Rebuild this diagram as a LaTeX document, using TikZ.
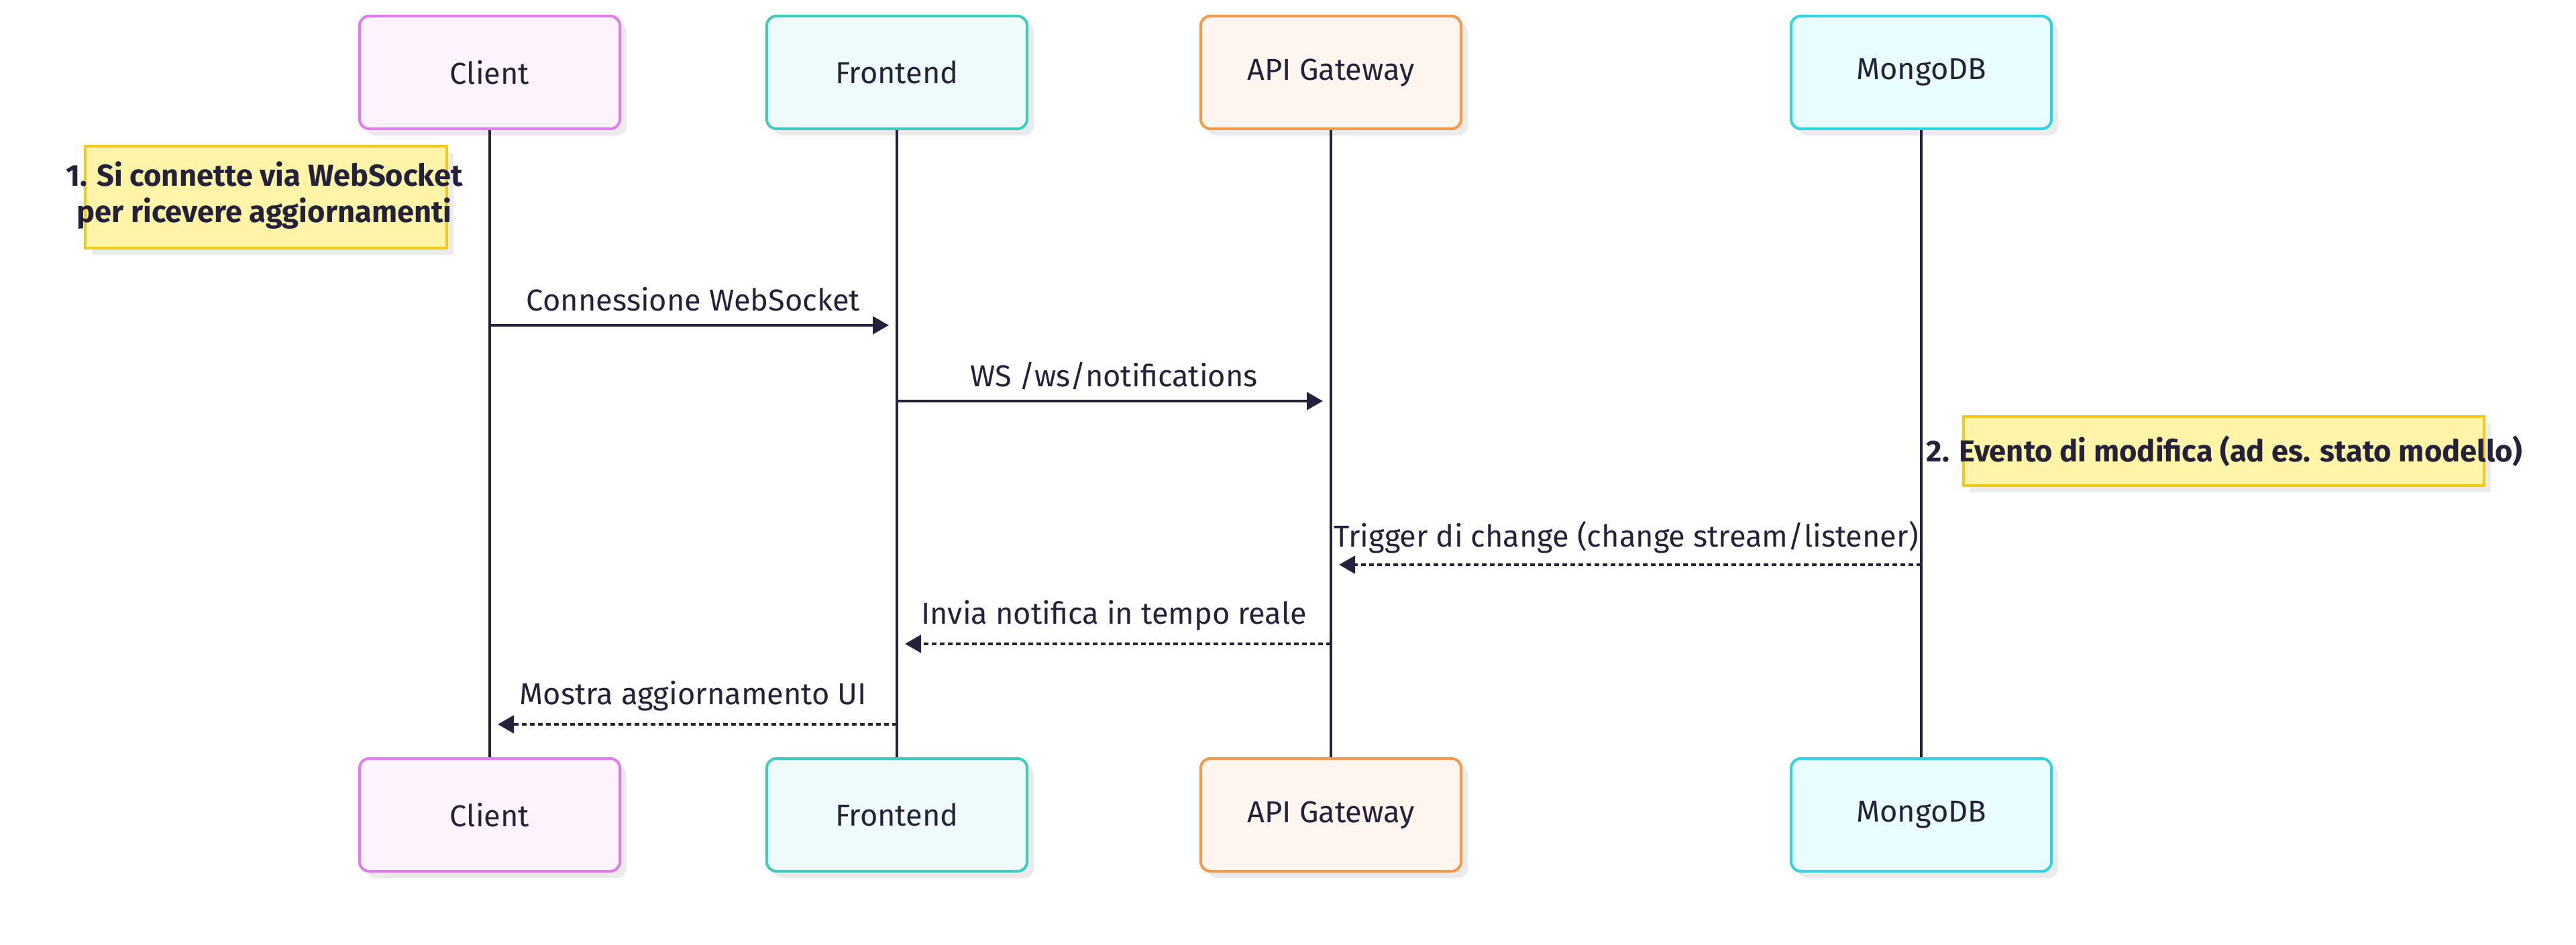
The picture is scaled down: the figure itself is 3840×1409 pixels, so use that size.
\documentclass[tikz,border=0pt]{standalone}
\usepackage{fontspec}
\setmainfont{Fira Sans}
\usetikzlibrary{arrows.meta,shadows}
\definecolor{ink}{HTML}{24223A}
\definecolor{cliB}{HTML}{E07CEF}
\definecolor{cliF}{HTML}{FCF3FD}
\definecolor{froB}{HTML}{3DCDBE}
\definecolor{froF}{HTML}{EEFBFA}
\definecolor{apiB}{HTML}{F29A4A}
\definecolor{apiF}{HTML}{FEF6EE}
\definecolor{monB}{HTML}{2ED3E6}
\definecolor{monF}{HTML}{E9FDFE}
\definecolor{noteB}{HTML}{F5C81C}
\definecolor{noteF}{HTML}{FFF4A8}
\definecolor{shad}{HTML}{EBEBEB}
\tikzset{
  actorbox/.style={rounded corners=3.5pt, line width=1pt, minimum width=97pt, minimum height=42pt,
    text=ink, font=\fontsize{11.3}{13}\selectfont, inner sep=0pt,
    drop shadow={shadow xshift=2.5pt, shadow yshift=-2.5pt, fill=shad, opacity=1}},
  notebox/.style={draw=noteB, fill=noteF, line width=1pt, inner sep=0pt,
    drop shadow={shadow xshift=2.5pt, shadow yshift=-2.5pt, fill=shad, opacity=1}},
  notetext/.style={text=ink, font=\bfseries\fontsize{11.3}{13.5}\selectfont, align=center, inner sep=0pt},
  lifeline/.style={draw=ink, line width=0.9pt},
  msg/.style={draw=ink, line width=1.2pt, -{Triangle[length=6pt,width=6.5pt]}, shorten >=3pt},
  reply/.style={msg, dash pattern=on 1.8pt off 1.2pt},
  lbl/.style={text=ink, font=\fontsize{11.3}{13}\selectfont, inner sep=0pt}
}
\begin{document}
\begin{tikzpicture}[x=0.25pt,y=-0.25pt]
\useasboundingbox[fill=white] (0,0) rectangle (3840,1409);
% top actors
\node[actorbox, draw=cliB, fill=cliF] (ct) at (730,108) {Client};
\node[actorbox, draw=froB, fill=froF] (ft) at (1337,108) {Frontend};
\node[actorbox, draw=apiB, fill=apiF] (at) at (1984,108) {API Gateway};
\node[actorbox, draw=monB, fill=monF] (mt) at (2864,108) {MongoDB};
% bottom actors
\node[actorbox, draw=cliB, fill=cliF] (cb) at (730,1215) {Client};
\node[actorbox, draw=froB, fill=froF] (fb) at (1337,1215) {Frontend};
\node[actorbox, draw=apiB, fill=apiF] (ab) at (1984,1215) {API Gateway};
\node[actorbox, draw=monB, fill=monF] (mb) at (2864,1215) {MongoDB};
% lifelines
\draw[lifeline] (ct.south) -- (cb.north);
\draw[lifeline] (ft.south) -- (fb.north);
\draw[lifeline] (at.south) -- (ab.north);
\draw[lifeline] (mt.south) -- (mb.north);
% note 1
\node[notebox, minimum width=134.75pt, minimum height=38pt] (n1) at (396,294) {};
\node[notetext] (n1t) at (394,291) {1. Si connette via WebSocket\\per ricevere aggiornamenti};
% messages 1,2
\draw[msg] (ct.south |- 0,485) -- node[lbl, midway, yshift=9.75pt] (l1) {Connessione WebSocket} (ft.south |- 0,485);
\draw[msg] (ft.south |- 0,598) -- node[lbl, midway, yshift=9.25pt] (l2) {WS /ws/notifications} (at.south |- 0,598);
% note 2
\node[notebox, minimum width=194pt, minimum height=25.75pt] (n2) at (3315,673) {};
\node[notetext] (n2t) at (3316,673) {2. Evento di modifica (ad es. stato modello)};
% replies
\draw[reply] (mt.south |- 0,842) -- node[lbl, midway, yshift=10.25pt] (l3) {Trigger di change (change stream/listener)} (at.south |- 0,842);
\draw[reply] (at.south |- 0,960) -- node[lbl, midway, yshift=10.5pt] (l4) {Invia notifica in tempo reale} (ft.south |- 0,960);
\draw[reply] (ft.south |- 0,1080) -- node[lbl, midway, yshift=10.5pt] (l5) {Mostra aggiornamento UI} (ct.south |- 0,1080);
\end{tikzpicture}
\end{document}
